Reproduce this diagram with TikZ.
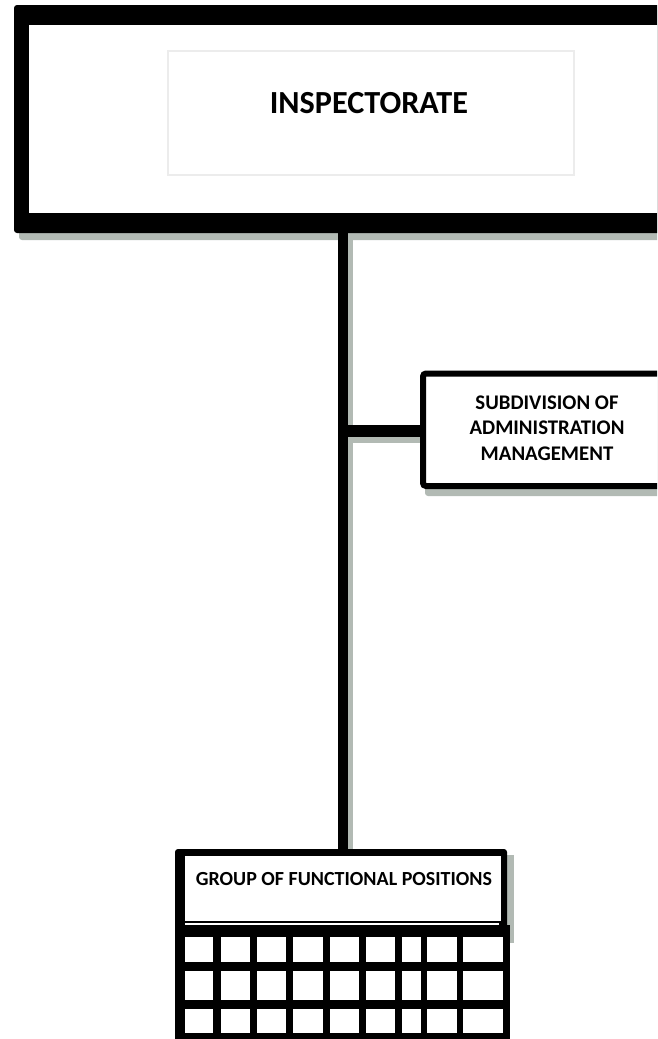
\documentclass[tikz,border=0pt]{standalone}
\usepackage{fontspec}
\setmainfont{Carlito}
\definecolor{shadowc}{RGB}{178,186,180}
\definecolor{framec}{RGB}{236,236,236}
\begin{document}
\begin{tikzpicture}[x=1pt,y=-1pt,
  conn/.style={line width=10pt, draw=black},
  connshadow/.style={line width=10pt, draw=shadowc},
  lbl/.style={inner sep=0pt, align=center},
  cellbox/.style={fill=white}]
\useasboundingbox (0,0) rectangle (657,1039);
\clip (0,0) rectangle (657,1039);
% named anchor points of the connectors
\coordinate (topS) at (342.5,233);
\coordinate (grpN) at (342.5,849);
\coordinate (junc) at (342.5,431);
\coordinate (subW) at (420,431);
% shadows
\fill[shadowc, rounded corners=3pt] (19,10) rectangle (700,240);
\fill[shadowc, rounded corners=3pt] (425,377) rectangle (700,496);
\fill[shadowc] (181,855) rectangle (514,943);
\draw[connshadow] ([xshift=5pt]topS) -- ([xshift=5pt]grpN);
\draw[connshadow, line width=11.5pt] ([yshift=-6pt]junc) -- ([yshift=-6pt]subW);
% connectors
\draw[conn] (topS) -- (grpN);
\draw[conn, line width=11.5pt] (junc) -- (subW);
% top box
\fill[black, rounded corners=3pt] (14,5) rectangle (700,233);
\fill[white] (29,25) rectangle (700,213);
\node[draw=framec, line width=2pt, minimum width=406pt, minimum height=124pt, inner sep=0pt] (inspframe) at (371,113) {};
\node[lbl, font=\bfseries\fontsize{32.2}{36}\selectfont] (insp) at (369,103) {INSPECTORATE};
% subdivision box
\node[draw=black, fill=white, line width=6pt, rounded corners=3pt, minimum width=277pt, minimum height=112.5pt, inner sep=0pt] (subbox) at (561.5,429.75) {};
\node[lbl, font=\bfseries\fontsize{20.8}{25.5}\selectfont] (sub) at (547,428) {SUBDIVISION OF\\ADMINISTRATION\\MANAGEMENT};
% group box with grid
\fill[black, rounded corners=3pt] (175,849) rectangle (507,1050);
\fill[black] (503,925) rectangle (510,1050);
\fill[white] (185,856) rectangle (501,920.7);
\fill[white] (185,923.3) rectangle (499,925.3);
\node[lbl, font=\bfseries\fontsize{20}{24}\selectfont] (grp) at (344,879) {GROUP OF FUNCTIONAL POSITIONS};
\foreach \xa/\xb in {184.5/213.3, 221/250, 257.3/286, 293.3/322.5, 330/358.5, 366/395, 402.3/420.7, 427.3/456.7, 463.3/503.3}
  \foreach \ya/\yb in {937.3/961.7, 970.7/1000, 1009/1033.3}
    \fill[cellbox] (\xa,\ya) rectangle (\xb,\yb);
\end{tikzpicture}
\end{document}
